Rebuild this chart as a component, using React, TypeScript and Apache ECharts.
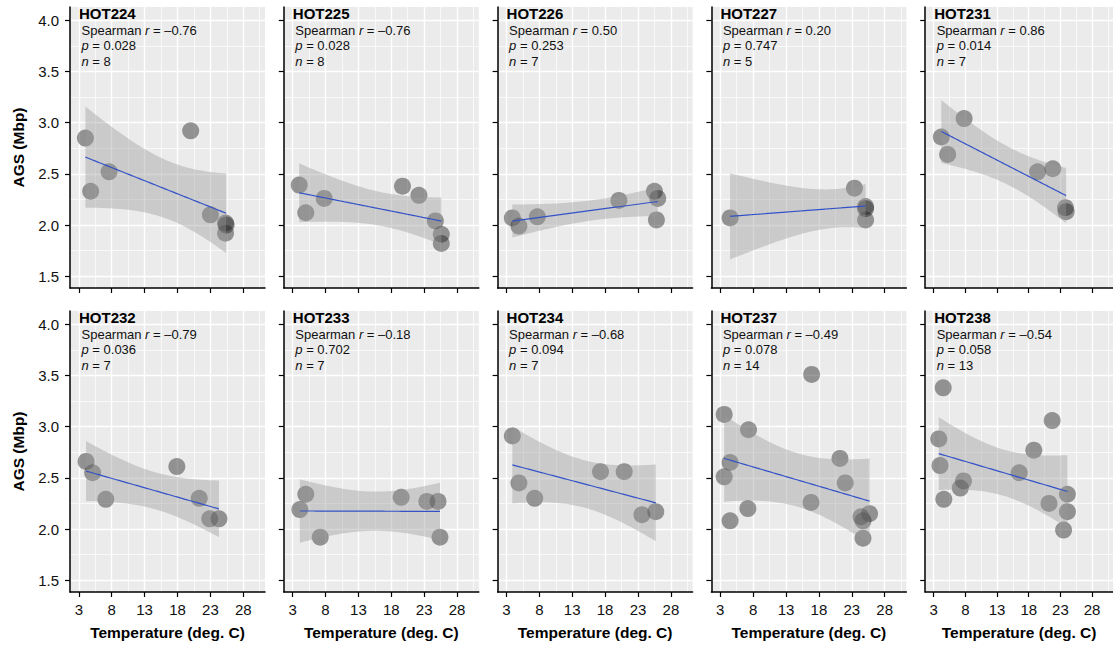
import React, { useEffect, useRef } from "react";
import * as echarts from "echarts";

// ---------- data ----------
const panelNames = ["HOT224", "HOT225", "HOT226", "HOT227", "HOT231", "HOT232", "HOT233", "HOT234", "HOT237", "HOT238"];
const spearmanR = ["–0.76", "–0.76", "0.50", "0.20", "0.86", "–0.79", "–0.18", "–0.68", "–0.49", "–0.54"];
const pValues = ["0.028", "0.028", "0.253", "0.747", "0.014", "0.036", "0.702", "0.094", "0.078", "0.058"];
const nValues = [8, 8, 7, 5, 7, 7, 7, 7, 14, 13];

const temp224 = [4.0, 4.8, 7.6, 20.0, 23.0, 25.3, 25.4, 25.3];
const ags224 = [2.85, 2.33, 2.52, 2.92, 2.1, 2.02, 2.0, 1.92];
const temp225 = [4.0, 5.0, 7.8, 19.7, 22.2, 24.7, 25.6, 25.6];
const ags225 = [2.39, 2.12, 2.26, 2.38, 2.29, 2.04, 1.91, 1.82];
const temp226 = [3.9, 4.9, 7.7, 20.1, 25.5, 26.0, 25.8];
const ags226 = [2.07, 1.99, 2.08, 2.24, 2.33, 2.26, 2.05];
const temp227 = [4.5, 23.4, 25.1, 25.1, 25.1];
const ags227 = [2.07, 2.36, 2.18, 2.16, 2.05];
const temp231 = [4.2, 5.2, 7.8, 19.4, 21.8, 23.8, 23.9];
const ags231 = [2.86, 2.69, 3.04, 2.52, 2.55, 2.17, 2.13];
const temp232 = [4.1, 5.1, 7.1, 17.9, 21.3, 22.9, 24.3];
const ags232 = [2.66, 2.55, 2.29, 2.61, 2.3, 2.1, 2.1];
const temp233 = [4.1, 5.0, 7.2, 19.5, 23.4, 25.1, 25.4];
const ags233 = [2.19, 2.34, 1.92, 2.31, 2.27, 2.27, 1.92];
const temp234 = [3.9, 4.9, 7.3, 17.3, 20.9, 23.6, 25.7];
const ags234 = [2.91, 2.45, 2.3, 2.56, 2.56, 2.14, 2.17];
const temp237 = [3.6, 4.5, 3.6, 4.5, 7.3, 7.2, 16.9, 16.8, 21.2, 22.0, 24.4, 24.7, 25.7, 24.7];
const ags237 = [3.12, 2.65, 2.51, 2.08, 2.97, 2.2, 3.51, 2.26, 2.69, 2.45, 2.12, 2.08, 2.15, 1.91];
const temp238 = [4.5, 3.8, 4.0, 4.6, 7.7, 7.2, 16.5, 18.8, 21.7, 21.2, 24.1, 24.1, 23.5];
const ags238 = [3.38, 2.88, 2.62, 2.29, 2.47, 2.4, 2.55, 2.77, 3.06, 2.25, 2.34, 2.17, 1.99];

const temps = [temp224, temp225, temp226, temp227, temp231, temp232, temp233, temp234, temp237, temp238];
const agss = [ags224, ags225, ags226, ags227, ags231, ags232, ags233, ags234, ags237, ags238];

const xTicks = [3, 8, 13, 18, 23, 28];
const xMinorTicks = [5.5, 10.5, 15.5, 20.5, 25.5, 30.5];
const yTicks = [1.5, 2.0, 2.5, 3.0, 3.5, 4.0];
const yMinorTicks = [1.75, 2.25, 2.75, 3.25, 3.75];

// 97.5% Student t quantiles by degrees of freedom
const tQuantile: Record<number, number> = {
  1: 12.706, 2: 4.303, 3: 3.182, 4: 2.776, 5: 2.571, 6: 2.447, 7: 2.365,
  8: 2.306, 9: 2.262, 10: 2.228, 11: 2.201, 12: 2.179, 13: 2.16,
};

// ---------- layout ----------
const FONT = "'Liberation Sans', Arial, Helvetica, sans-serif";
const X_MIN = 1.66;
const X_MAX = 31.3;
const Y_MIN = 1.385;
const Y_MAX = 4.13;
const GRID_LEFT0 = 70;
const GRID_STEP = 213.8;
const GRID_W = 195;
const GRID_TOPS = [7, 311];
const GRID_H = 281;

function linearFit(xs: number[], ys: number[]) {
  const n = xs.length;
  const mx = xs.reduce((a, b) => a + b, 0) / n;
  const my = ys.reduce((a, b) => a + b, 0) / n;
  let sxx = 0, sxy = 0;
  for (let i = 0; i < n; i++) {
    sxx += (xs[i] - mx) ** 2;
    sxy += (xs[i] - mx) * (ys[i] - my);
  }
  const b = sxy / sxx;
  const a = my - b * mx;
  let sse = 0;
  for (let i = 0; i < n; i++) sse += (ys[i] - a - b * xs[i]) ** 2;
  const s = Math.sqrt(sse / (n - 2));
  const t = tQuantile[n - 2] || 2.0;
  const lo = Math.min(...xs), hi = Math.max(...xs);
  const band: number[][] = [];
  const line: number[][] = [];
  const steps = 80;
  for (let k = 0; k < steps; k++) {
    const x = lo + ((hi - lo) * k) / (steps - 1);
    const f = a + b * x;
    const se = s * Math.sqrt(1 / n + (x - mx) ** 2 / sxx);
    band.push([x, f - t * se, f + t * se]);
    line.push([x, f]);
  }
  return { band, line };
}

export default function App() {
  const ref = useRef<HTMLDivElement>(null);
  useEffect(() => {
    if (!ref.current) return;
    const chart = echarts.init(ref.current, undefined, { renderer: "svg" });

    const grid: any[] = [];
    const xAxis: any[] = [];
    const yAxis: any[] = [];
    const series: any[] = [];
    const graphic: any[] = [];

    panelNames.forEach((name, i) => {
      const row = Math.floor(i / 5);
      const col = i % 5;
      const left = GRID_LEFT0 + col * GRID_STEP;
      const top = GRID_TOPS[row];
      grid.push({
        left, top, width: GRID_W, height: GRID_H,
        show: true, backgroundColor: "#EBEBEB", borderWidth: 0, containLabel: false,
      });
      xAxis.push({
        gridIndex: i, type: "value", min: X_MIN, max: X_MAX, position: "bottom",
        axisLine: { show: true, onZero: false, lineStyle: { color: "#000", width: 1.5 } },
        axisTick: { show: true, length: 5, customValues: xTicks, lineStyle: { color: "#000", width: 1.2 } },
        axisLabel: {
          show: row === 1, customValues: xTicks, margin: 10, fontSize: 15,
          color: "#111", fontFamily: FONT,
        },
        splitLine: { show: true, lineStyle: { color: "#fff", width: 1.4 } },
        name: row === 1 ? "Temperature (deg. C)" : "",
        nameLocation: "middle", nameGap: 32,
        nameTextStyle: { fontWeight: "bold", fontSize: 15.5, color: "#000", fontFamily: FONT },
      });
      xAxis.push({
        gridIndex: i, type: "value", min: X_MIN, max: X_MAX, position: "top",
        axisLine: { show: false }, axisLabel: { show: false },
        axisTick: { show: false, customValues: xMinorTicks },
        splitLine: { show: true, lineStyle: { color: "#fff", width: 0.7 } },
      });
      yAxis.push({
        gridIndex: i, type: "value", min: Y_MIN, max: Y_MAX, position: "left",
        axisLine: { show: true, onZero: false, lineStyle: { color: "#000", width: 1.5 } },
        axisTick: { show: true, length: 5, customValues: yTicks, lineStyle: { color: "#000", width: 1.2 } },
        axisLabel: {
          show: col === 0, customValues: yTicks, margin: 11, fontSize: 15,
          color: "#111", fontFamily: FONT,
          formatter: (v: number) => v.toFixed(1),
        },
        splitLine: { show: true, lineStyle: { color: "#fff", width: 1.4 } },
        name: col === 0 ? "AGS (Mbp)" : "",
        nameLocation: "middle", nameGap: 44,
        nameTextStyle: { fontWeight: "bold", fontSize: 15.5, color: "#000", fontFamily: FONT },
      });
      yAxis.push({
        gridIndex: i, type: "value", min: Y_MIN, max: Y_MAX, position: "right",
        axisLine: { show: false }, axisLabel: { show: false },
        axisTick: { show: false, customValues: yMinorTicks },
        splitLine: { show: true, lineStyle: { color: "#fff", width: 0.7 } },
      });

      const xs = temps[i];
      const ys = agss[i];
      const fit = linearFit(xs, ys);

      series.push({
        type: "scatter", xAxisIndex: 2 * i, yAxisIndex: 2 * i,
        data: xs.map((x, k) => [x, ys[k]]),
        symbolSize: 17,
        itemStyle: { color: "rgba(30,30,30,0.55)" },
        z: 2,
      });
      const band = fit.band;
      series.push({
        type: "custom", xAxisIndex: 2 * i, yAxisIndex: 2 * i,
        data: band,
        encode: { x: 0, y: [1, 2] },
        renderItem: (params: any, api: any) => {
          if (params.dataIndex !== 0) return null;
          const upper = band.map((b) => api.coord([b[0], b[2]]));
          const lower = band.slice().reverse().map((b) => api.coord([b[0], b[1]]));
          return {
            type: "polygon",
            shape: { points: upper.concat(lower) },
            style: { fill: "rgba(153,153,153,0.4)" },
          };
        },
        z: 3,
        silent: true,
      });
      series.push({
        type: "line", xAxisIndex: 2 * i, yAxisIndex: 2 * i,
        data: fit.line, showSymbol: false,
        lineStyle: { color: "#3352c8", width: 1.2 },
        z: 4, silent: true,
      });

      graphic.push({
        type: "text", x: left + 9, y: top + 6.7, z: 10,
        style: { text: name, fill: "#000", font: `bold 15px ${FONT}`, verticalAlign: "middle" },
      });
      const statStyle = { fontSize: 13, fontFamily: FONT, fill: "#111" };
      const rich = { i: { fontStyle: "italic", fontSize: 13, fontFamily: FONT, color: "#111" } };
      graphic.push({
        type: "text", x: left + 11.5, y: top + 23, z: 10,
        style: { text: `Spearman {i|r} = ${spearmanR[i]}`, rich, ...statStyle, verticalAlign: "middle" },
      });
      graphic.push({
        type: "text", x: left + 11.5, y: top + 38.5, z: 10,
        style: { text: `{i|p} = ${pValues[i]}`, rich, ...statStyle, verticalAlign: "middle" },
      });
      graphic.push({
        type: "text", x: left + 11.5, y: top + 54, z: 10,
        style: { text: `{i|n} = ${nValues[i]}`, rich, ...statStyle, verticalAlign: "middle" },
      });
    });

    chart.setOption({
      animation: false,
      backgroundColor: "#fff",
      textStyle: { fontFamily: FONT },
      grid, xAxis, yAxis, series, graphic,
    });
    return () => chart.dispose();
  }, []);

  return (
    <div
      ref={ref}
      style={{ position: "absolute", left: 0, top: 0, width: 1113, height: 646 }}
    />
  );
}
